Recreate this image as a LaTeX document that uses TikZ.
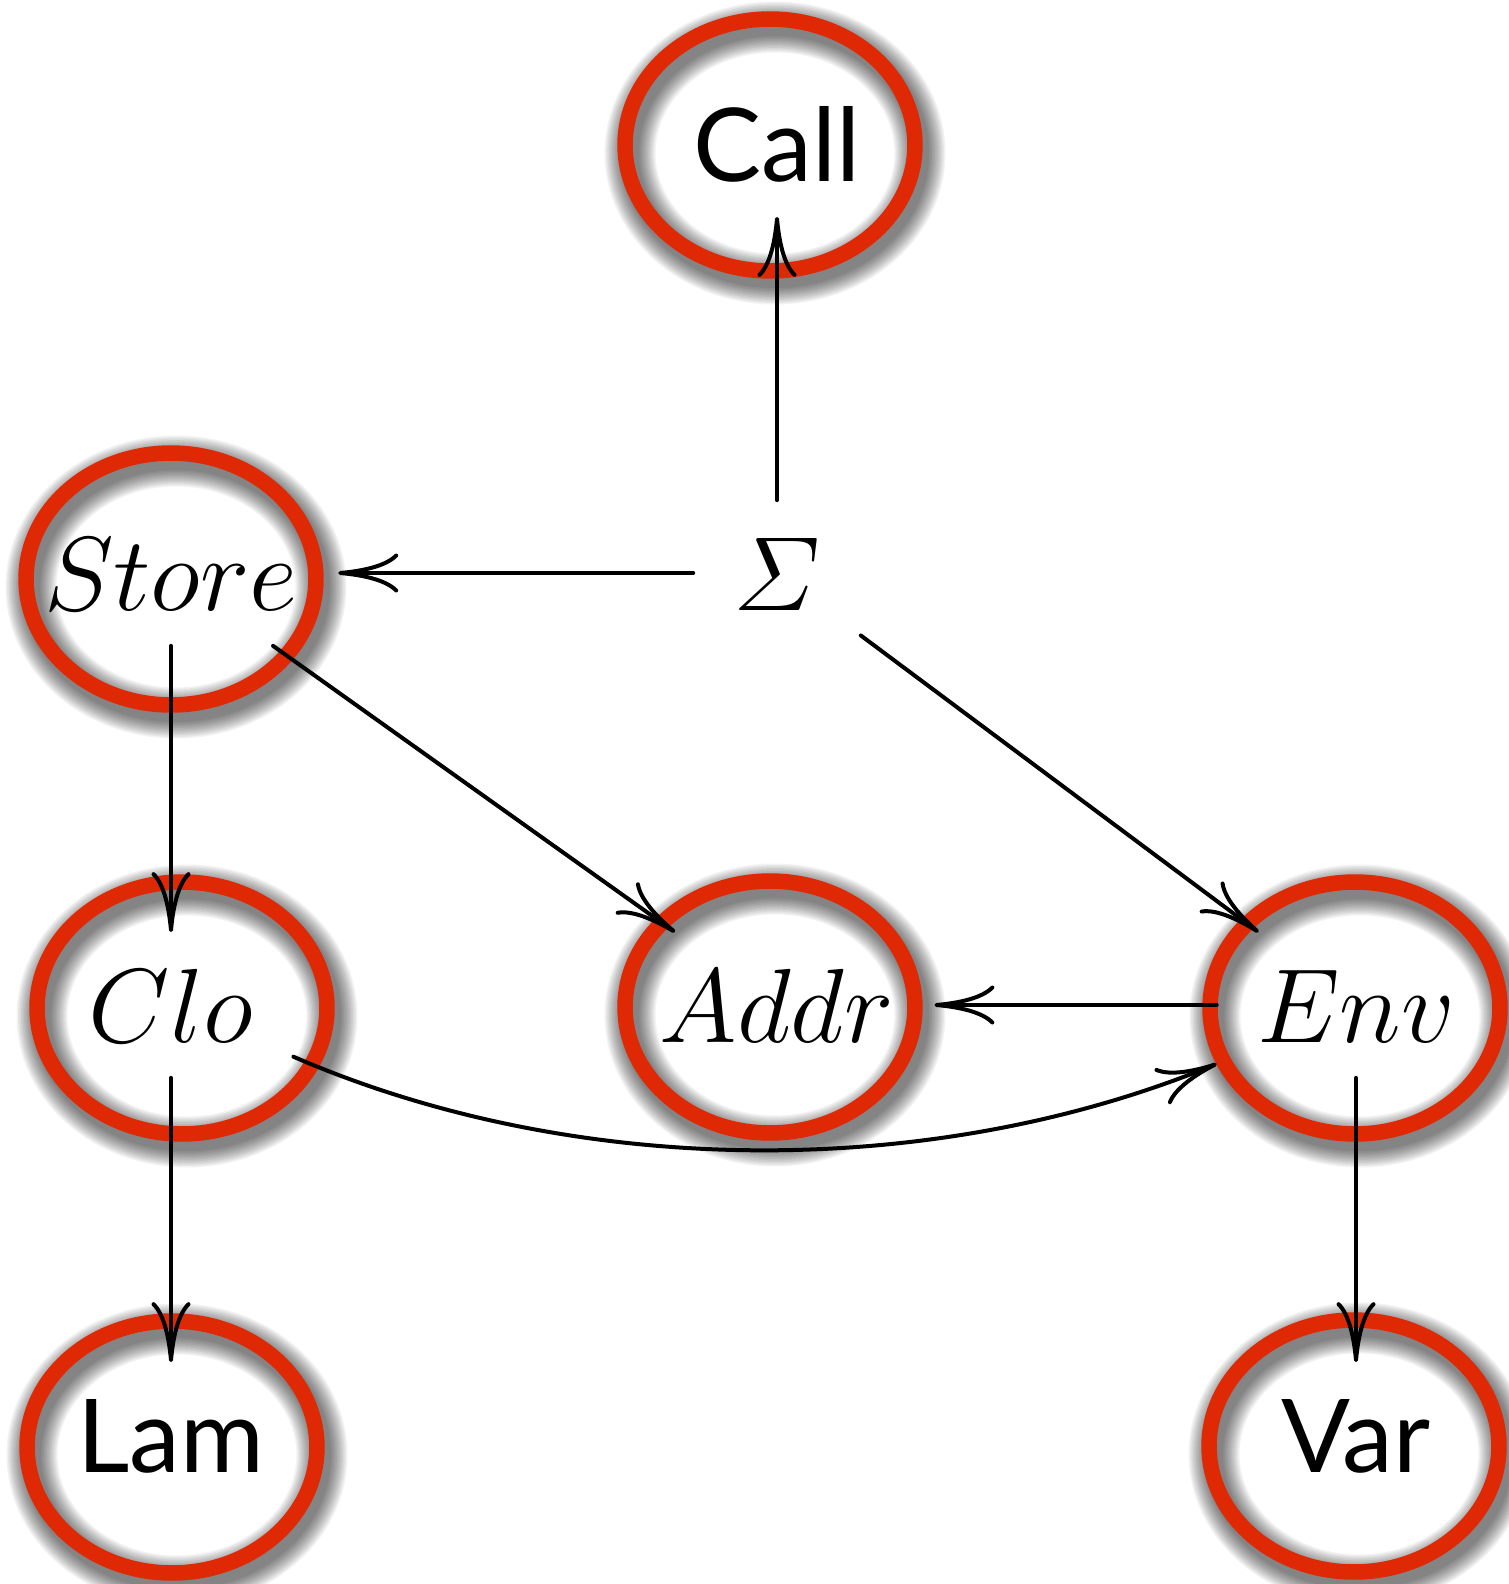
\RequirePackage{fix-cm}
\documentclass[tikz,border=0pt]{standalone}
\usepackage{amsmath}
\usepackage{fontspec}
\newfontfamily\labelsans{Lato}
\usetikzlibrary{arrows.meta,bending}

\definecolor{ringred}{RGB}{223,40,4}

\tikzset{
  term/.style={rectangle, inner xsep=0.8cm, inner ysep=0.7cm,
    text height=1.5cm, text depth=0pt, font=\fontsize{60}{72}\selectfont},
  sansterm/.style={term, font=\labelsans\fontsize{58}{70}\selectfont},
  link/.style={line width=0.08cm, line cap=round,
    -{To[length=1.2cm,width=0.78cm]}},
  ring/.style={draw=ringred, line width=0.31cm},
}

\begin{document}
\begin{tikzpicture}[x=0.02cm, y=-0.02cm]
  \useasboundingbox (0,0) rectangle (1508,1584);
  \fill[white] (0,0) rectangle (1508,1584);

  % soft drop shadows under the rings
  \foreach \cx/\cy in {770/145, 171/579, 182/1008, 770/1007, 1355/1008, 172/1447, 1354/1446}{
    \foreach \i in {1,...,12}{
      \draw[black, opacity=0.05, line width=0.3cm+\i*0.06cm]
        (\cx+5,\cy+8) ellipse [x radius=2.9cm, y radius=2.52cm];
    }
  }

  % red rings
  \foreach \cx/\cy in {770/145, 171/579, 182/1008, 770/1007, 1355/1008, 172/1447, 1354/1446}{
    \draw[ring] (\cx,\cy) ellipse [x radius=2.9cm, y radius=2.52cm];
  }

  % terms
  \node[sansterm] (call)  at (777,144)  {Call};
  \node[term]     (sigma) at (777,573)  {$\varSigma$};
  \node[term]     (store) at (171,573)  {$Store$};
  \node[term]     (clo)   at (171,1005) {$Clo$};
  \node[term]     (addr)  at (777,1005) {$Addr$};
  \node[term]     (env)   at (1356,1005) {$Env$};
  \node[sansterm] (lam)   at (171,1435) {Lam};
  \node[sansterm] (var)   at (1356,1435) {Var};

  % connectors
  \draw[link] (sigma) -- (call);
  \draw[link] (sigma) -- (store);
  \draw[link] (sigma) -- (env);
  \draw[link] (store) -- (clo);
  \draw[link] (store) -- (addr);
  \draw[link] (env) -- (addr);
  \draw[link] (clo) to[bend right=23, looseness=0.85] (env);
  \draw[link] (clo) -- (lam);
  \draw[link] (env) -- (var);
\end{tikzpicture}
\end{document}
